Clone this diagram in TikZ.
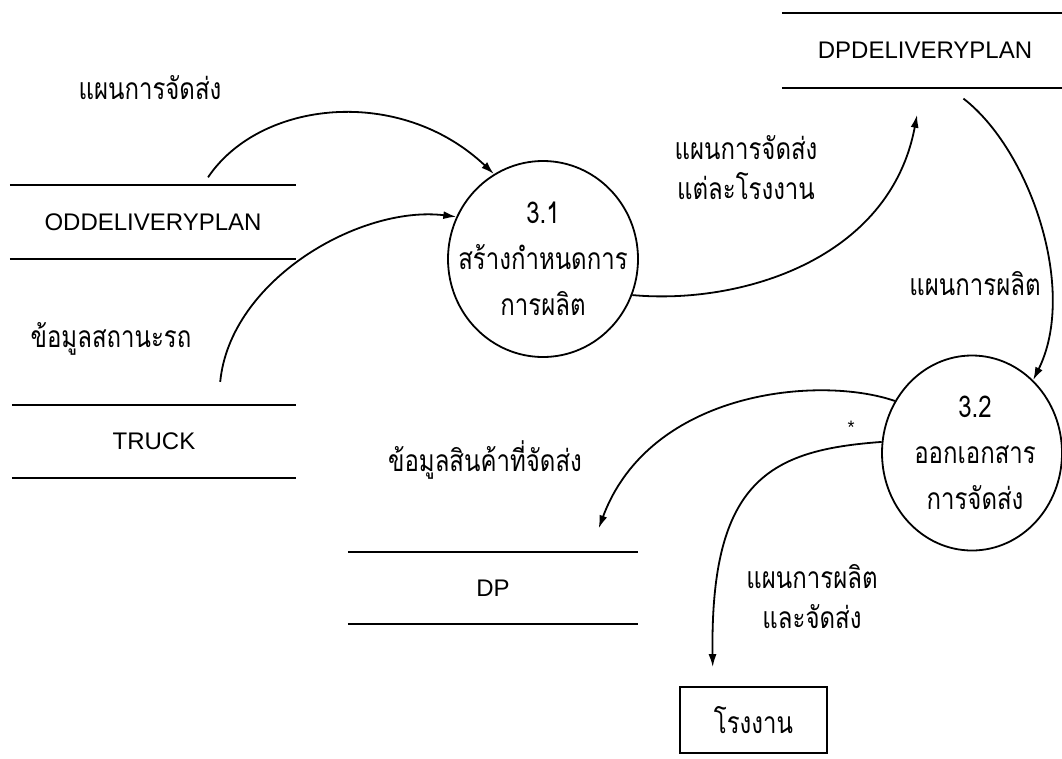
\documentclass[tikz,border=0pt]{standalone}
\usepackage{fontspec}
\usetikzlibrary{arrows.meta,shapes.geometric}
\newfontfamily\latinfont{Liberation Sans}
\newfontfamily\thaifont[Script=Thai,FakeStretch=0.8]{Loma}
\begin{document}
\begin{tikzpicture}[x=1pt,y=-1pt,
  every node/.style={inner sep=0pt},
  lat/.style={font=\latinfont\fontsize{24}{28}\selectfont},
  th/.style={font=\thaifont\fontsize{30}{40}\selectfont, align=center},
  proc/.style={draw, ellipse, line width=1.8pt},
  proctext/.style={font=\thaifont\fontsize{30}{46}\selectfont, align=center},
  store/.style={lat, append after command={
    (\tikzlastnode.north west) edge[line width=1.8pt] (\tikzlastnode.north east)
    (\tikzlastnode.south west) edge[line width=1.8pt] (\tikzlastnode.south east)}},
  ent/.style={draw, line width=1.8pt, minimum width=147pt, minimum height=66pt,
    font=\thaifont\fontsize{30}{34}\selectfont},
  flow/.style={line width=1.8pt, -{Latex[length=13pt,width=8pt]}}]
\useasboundingbox (0,0) rectangle (1062,758);

% processes: outline and centred caption
\node[proc, minimum width=190pt, minimum height=196pt] (p1) at (543,259) {};
\node[proctext] (t1) at (p1.center) {3.1\\สร้างกำหนดการ\\การผลิต};
\node[proc, minimum width=180pt, minimum height=195pt] (p2) at (972,453) {};
\node[proctext] (t2) at ([xshift=3pt]p2.center) {3.2\\ออกเอกสาร\\การจัดส่ง};

% data stores
\node[store, minimum width=286pt, minimum height=74pt] (od) at (153,222) {ODDELIVERYPLAN};
\node[store, minimum width=284pt, minimum height=73pt] (tr) at (154,441.5) {TRUCK};
\node[store, minimum width=286pt, minimum height=75pt] (dpd) at (925,50.5) {DPDELIVERYPLAN};
\node[store, minimum width=290pt, minimum height=72pt] (dp) at (493,588) {DP};

% external entity
\node[ent] (fac) at (753.5,720) {โรงงาน};

% flow labels
\node[th] (l1) at (150,88) {แผนการจัดส่ง};
\node[th] (l2) at (111,339) {ข้อมูลสถานะรถ};
\node[th] (l3) at (746,168) {แผนการจัดส่ง\\แต่ละโรงงาน};
\node[th] (l4) at (975,284) {แผนการผลิต};
\node[th] (l5) at (485,460) {ข้อมูลสินค้าที่จัดส่ง};
\node[th] (l6) at (812,597) {แผนการผลิต\\และจัดส่ง};
\node[font=\latinfont\fontsize{18}{18}\selectfont] (st) at (851,427) {*};

% flows
\draw[flow, shorten <=9pt] ([xshift=50pt]od.north) .. controls (260,100) and (400,85) .. (p1.120);
\draw[flow, shorten <=23pt] ([xshift=64pt]tr.north) .. controls (230,280) and (360,205) .. (p1.154);
\draw[flow, shorten >=27pt] (p1.-22) .. controls (740,305) and (890,260) .. ([xshift=-3pt]dpd.south);
\draw[flow, shorten <=17pt] ([xshift=25pt]dpd.south) .. controls (1030,150) and (1078,290) .. (p2.50);
\draw[flow, shorten >=25pt] (p2.146) .. controls (820,375) and (650,390) .. ([xshift=97pt]dp.north);
\draw[flow, shorten >=19pt] (p2.173) .. controls (770,450) and (710,480) .. ([xshift=-40.5pt]fac.north);
\end{tikzpicture}
\end{document}
